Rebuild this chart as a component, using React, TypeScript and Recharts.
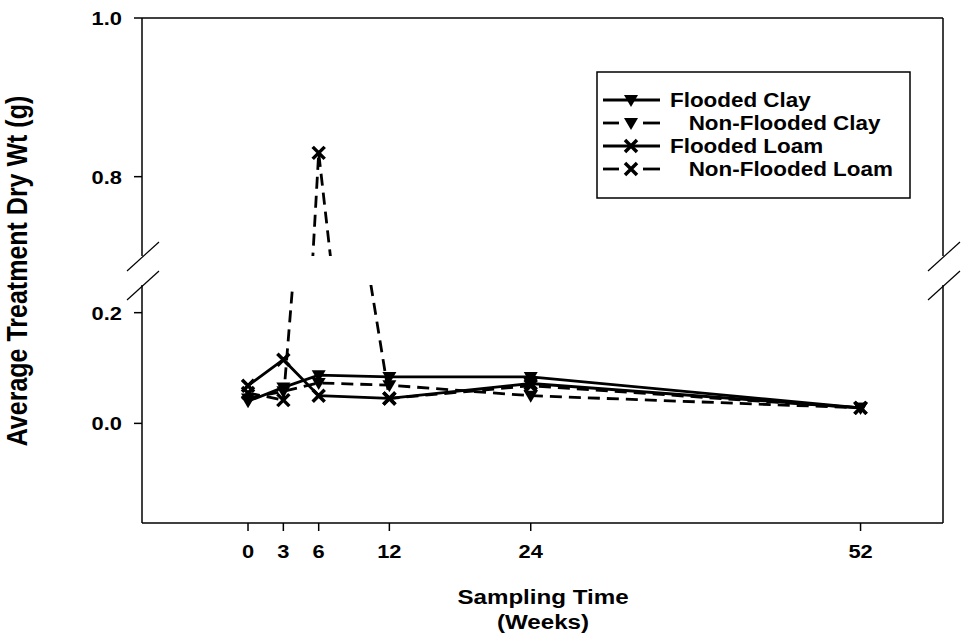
import React from 'react';
import { LineChart, Line, XAxis, YAxis } from 'recharts';

const weeks = [0, 3, 6, 12, 24, 52];
const floodedClay = [0.04, 0.065, 0.087, 0.084, 0.084, 0.028];
const nonFloodedClay = [0.045, 0.058, 0.073, 0.069, 0.05, 0.028];
const floodedLoam = [0.068, 0.115, 0.05, 0.045, 0.072, 0.028];
const nonFloodedLoam = [0.055, 0.042, 0.83, 0.045, 0.068, 0.028];

const xTicks = [0, 3, 6, 12, 24, 52];
const upperTicks = [0.8, 1.0];
const lowerTicks = [0.0, 0.2];

const data = weeks.map((w, i) => ({
  week: w,
  fc: floodedClay[i],
  nfc: nonFloodedClay[i],
  fl: floodedLoam[i],
  nfl: nonFloodedLoam[i],
}));

const FONT = '"Liberation Sans", Arial, sans-serif';
const SX = 1.15;
const W = 965;
const DASH = '12 7';
const AX = { stroke: '#000', strokeWidth: 1.5 };

const tri = (p: any) => {
  const { cx, cy, key } = p;
  if (cx == null || cy == null) return <g key={key} />;
  return <path key={key} d={`M${cx - 7},${cy - 5} L${cx + 7},${cy - 5} L${cx},${cy + 7} Z`} fill="#000" />;
};

const cross = (p: any) => {
  const { cx, cy, key } = p;
  if (cx == null || cy == null) return <g key={key} />;
  return (
    <path key={key} d={`M${cx - 6},${cy - 6} L${cx + 6},${cy + 6} M${cx + 6},${cy - 6} L${cx - 6},${cy + 6}`}
      stroke="#000" strokeWidth={3.5} />
  );
};

const YTick = (p: any) => (
  <g transform={`translate(${p.x},${p.y}) scale(${SX},1)`}>
    <text textAnchor="end" dy="0.36em" fontSize={19} fontWeight="bold" fontFamily={FONT} fill="#000">
      {Number(p.payload.value).toFixed(1)}
    </text>
  </g>
);

const XTick = (p: any) => (
  <g transform={`translate(${p.x},${p.y}) scale(${SX},1)`}>
    <text textAnchor="middle" dy="0.71em" fontSize={19} fontWeight="bold" fontFamily={FONT} fill="#000">
      {p.payload.value}
    </text>
  </g>
);

function series() {
  return [
    <Line key="fc" yAxisId="l" dataKey="fc" stroke="#000" strokeWidth={2.8} dot={tri} isAnimationActive={false} />,
    <Line key="nfc" yAxisId="l" dataKey="nfc" stroke="#000" strokeWidth={2.8} strokeDasharray={DASH} dot={tri} isAnimationActive={false} />,
    <Line key="fl" yAxisId="l" dataKey="fl" stroke="#000" strokeWidth={2.8} dot={cross} isAnimationActive={false} />,
    <Line key="nfl" yAxisId="l" dataKey="nfl" stroke="#000" strokeWidth={2.8} strokeDasharray={DASH} dot={cross} isAnimationActive={false} />,
  ];
}

const legendRows = [
  { name: 'Flooded Clay', dashed: false, mark: 'tri' },
  { name: '   Non-Flooded Clay', dashed: true, mark: 'tri' },
  { name: 'Flooded Loam', dashed: false, mark: 'x' },
  { name: '   Non-Flooded Loam', dashed: true, mark: 'x' },
];

export default function App() {
  return (
    <div style={{ position: 'absolute', left: 0, top: 0, width: W, height: 640, background: '#fff' }}>
      {/* upper panel */}
      <div style={{ position: 'absolute', left: 0, top: 0 }}>
        <LineChart width={W} height={256} data={data} margin={{ top: 17, right: 21, bottom: 0, left: 0 }}>
          <XAxis type="number" dataKey="week" domain={[-9, 59]} orientation="top" height={1}
            tick={false} tickLine={false} axisLine={AX} />
          <YAxis yAxisId="l" type="number" domain={[0.7, 1.0]} ticks={upperTicks} allowDataOverflow
            width={142} tickSize={8} tickMargin={12} tick={<YTick />} axisLine={AX} tickLine={AX} />
          <YAxis yAxisId="r" orientation="right" type="number" domain={[0.7, 1.0]} allowDataOverflow
            width={1} tick={false} tickLine={false} axisLine={AX} />
          {series()}
        </LineChart>
      </div>
      {/* lower panel */}
      <div style={{ position: 'absolute', left: 0, top: 0 }}>
        <LineChart width={W} height={640} data={data} margin={{ top: 285, right: 21, bottom: 77, left: 0 }}>
          <XAxis type="number" dataKey="week" domain={[-9, 59]} ticks={xTicks} height={40}
            tickSize={8} tickMargin={14} tick={<XTick />} axisLine={AX} tickLine={AX} />
          <YAxis yAxisId="l" type="number" domain={[-0.18, 0.25]} ticks={lowerTicks} allowDataOverflow
            width={142} tickSize={8} tickMargin={12} tick={<YTick />} axisLine={AX} tickLine={AX} />
          <YAxis yAxisId="r" orientation="right" type="number" domain={[-0.18, 0.25]} allowDataOverflow
            width={1} tick={false} tickLine={false} axisLine={AX} />
          {series()}
        </LineChart>
      </div>
      {/* titles, axis breaks, legend */}
      <svg width={W} height={640} style={{ position: 'absolute', left: 0, top: 0, pointerEvents: 'none' }}>
        <g stroke="#000" strokeWidth={1.2}>
          <line x1={127} y1={271} x2={159} y2={242} />
          <line x1={127} y1={300} x2={159} y2={271} />
          <line x1={928} y1={271} x2={960} y2={242} />
          <line x1={928} y1={300} x2={960} y2={271} />
        </g>
        <g fontFamily={FONT} fontWeight="bold" fill="#000">
          <text transform={`translate(27,271) scale(${SX},1) rotate(-90)`} textAnchor="middle" fontSize={25}>
            Average Treatment Dry Wt (g)
          </text>
          <text transform={`translate(543,604) scale(${SX},1)`} textAnchor="middle" fontSize={21}>Sampling Time</text>
          <text transform={`translate(543,629) scale(${SX},1)`} textAnchor="middle" fontSize={21}>(Weeks)</text>
        </g>
        <g transform="translate(597,72)">
          <rect x={0} y={0} width={313} height={126} fill="#fff" stroke="#000" strokeWidth={1.5} />
          {legendRows.map((r, i) => {
            const y = 28 + i * 23;
            return (
              <g key={r.name}>
                {r.dashed ? (
                  <g stroke="#000" strokeWidth={2.8}>
                    <line x1={6} y1={y} x2={22} y2={y} />
                    <line x1={46} y1={y} x2={63} y2={y} />
                  </g>
                ) : (
                  <line x1={6} y1={y} x2={63} y2={y} stroke="#000" strokeWidth={2.8} />
                )}
                {r.mark === 'tri' ? tri({ cx: 34, cy: y, key: 'm' }) : cross({ cx: 34, cy: y, key: 'm' })}
                <text transform={`translate(73,${y}) scale(${SX},1)`} dy="0.36em" fontSize={19.5}
                  fontFamily={FONT} fontWeight="bold" style={{ whiteSpace: 'pre' }}>
                  {r.name}
                </text>
              </g>
            );
          })}
        </g>
      </svg>
    </div>
  );
}
